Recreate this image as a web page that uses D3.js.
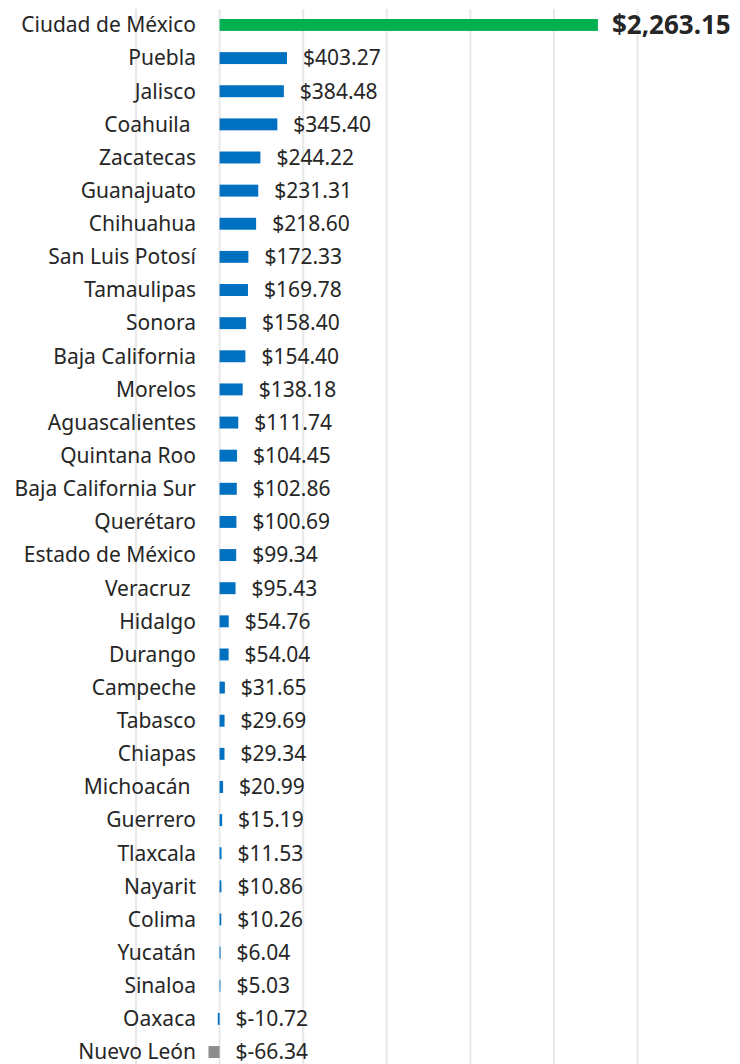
<!DOCTYPE html>
<html><head><meta charset="utf-8">
<script src="https://cdn.jsdelivr.net/npm/d3@7"></script>
<style>
html,body{margin:0;padding:0;background:#fff;}
svg{display:block;}
text{font-family:"Noto Sans","Open Sans",sans-serif;}
</style></head>
<body>
<svg id="chart" width="740" height="1064"></svg>
<script>
const categories = ["Ciudad de México","Puebla","Jalisco","Coahuila ","Zacatecas","Guanajuato","Chihuahua","San Luis Potosí","Tamaulipas","Sonora","Baja California","Morelos","Aguascalientes","Quintana Roo","Baja California Sur","Querétaro","Estado de México","Veracruz ","Hidalgo","Durango","Campeche","Tabasco","Chiapas","Michoacán ","Guerrero","Tlaxcala","Nayarit","Colima","Yucatán","Sinaloa","Oaxaca","Nuevo León"];
const values = [2263.15,403.27,384.48,345.40,244.22,231.31,218.60,172.33,169.78,158.40,154.40,138.18,111.74,104.45,102.86,100.69,99.34,95.43,54.76,54.04,31.65,29.69,29.34,20.99,15.19,11.53,10.86,10.26,6.04,5.03,-10.72,-66.34];
const gridTicks = [-500,0,500,1000,1500,2000,2500];

const data = categories.map((c,i)=>({cat:c, val:values[i], i}));
const svg = d3.select("#chart");

const x = d3.scaleLinear().domain([-500,2500]).range([136,637.5]);
const y = d3.scaleBand().domain(categories).range([8.4,1068.6]).paddingInner(0.64).paddingOuter(0.32);

// gridlines
svg.append("g").selectAll("line").data(gridTicks).join("line")
  .attr("x1",d=>x(d)).attr("x2",d=>x(d))
  .attr("y1",9).attr("y2",1064)
  .attr("stroke","#e8e8e8").attr("stroke-width",2);

function color(d){
  if(d.i===0) return "#00B050";
  if(d.val < -50) return "#8C8C8C";
  return "#0070C0";
}

svg.append("g").selectAll("rect").data(data).join("rect")
  .attr("x",d=>x(Math.min(0,d.val)))
  .attr("width",d=>Math.abs(x(d.val)-x(0)))
  .attr("y",d=>y(d.cat))
  .attr("height",y.bandwidth())
  .attr("fill",color);

// category labels
svg.append("g").selectAll("text").data(data).join("text")
  .attr("x",196)
  .attr("y",d=>y(d.cat)+y.bandwidth()/2)
  .attr("dy","0.35em")
  .attr("text-anchor","end")
  .style("white-space","pre")
  .attr("font-size",21)
  .attr("fill","#262626")
  .text(d=>d.cat);

const loc = d3.formatLocale({decimal:".",thousands:",",grouping:[3],currency:["$",""],minus:"-"});
const fmt = loc.format(",.2f");
svg.append("g").selectAll("text").data(data).join("text")
  .attr("x",d=>x(Math.max(0,d.val)) + (d.i===0?14:16))
  .attr("y",d=>y(d.cat)+y.bandwidth()/2)
  .attr("dy","0.35em")
  .attr("text-anchor","start")
  .attr("font-size",d=>d.i===0?26:21)
  .attr("font-weight",d=>d.i===0?"bold":"normal")
  .attr("fill","#262626")
  .text(d=>"$"+fmt(d.val));
</script>
</body></html>
